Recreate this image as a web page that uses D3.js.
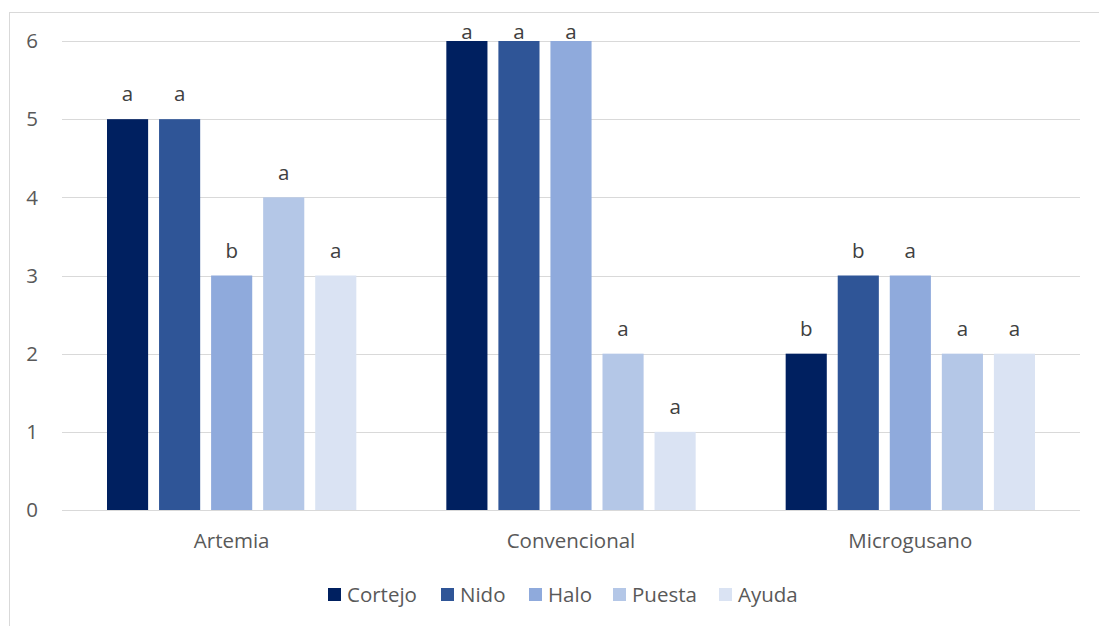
<!DOCTYPE html>
<html>
<head>
<meta charset="utf-8">
<script src="https://cdn.jsdelivr.net/npm/d3@7"></script>
<style>
  html, body { margin: 0; padding: 0; background: #fff; }
  svg { display: block; font-family: "Open Sans", sans-serif; }
</style>
</head>
<body>
<svg id="chart" width="1099" height="626"></svg>
<script>
// Diet groups and behaviours
const categories = ["Artemia", "Convencional", "Microgusano"];
const series = ["Cortejo", "Nido", "Halo", "Puesta", "Ayuda"];
const colors = ["#002060", "#2F5597", "#8FAADC", "#B4C7E7", "#DAE3F3"];

// Values per diet, one entry per behaviour
const artemia = [5, 5, 3, 4, 3];
const convencional = [6, 6, 6, 2, 1];
const microgusano = [2, 3, 3, 2, 2];

// Significance letters above each bar
const lettersArtemia = ["a", "a", "b", "a", "a"];
const lettersConvencional = ["a", "a", "a", "a", "a"];
const lettersMicrogusano = ["b", "b", "a", "a", "a"];

const yTicks = [0, 1, 2, 3, 4, 5, 6];

const values = [artemia, convencional, microgusano];
const letters = [lettersArtemia, lettersConvencional, lettersMicrogusano];

const fontSize = 20.5;
const svg = d3.select("#chart");

// Outer chart frame
svg.append("rect")
  .attr("x", 9.5).attr("y", 12.5)
  .attr("width", 1200).attr("height", 700)
  .attr("fill", "none").attr("stroke", "#d9d9d9").attr("stroke-width", 1);

const plot = { left: 62, right: 1080, top: 41, bottom: 510 };

const y = d3.scaleLinear().domain([0, 6]).range([plot.bottom, plot.top]);
const x0 = d3.scaleBand().domain(categories).range([plot.left, plot.right]).padding(0);
const inner = 45;
const x1 = d3.scaleBand().domain(series)
  .range([inner, x0.bandwidth() - inner])
  .paddingInner(0.21).paddingOuter(0);
const color = d3.scaleOrdinal().domain(series).range(colors);

// Gridlines
svg.append("g")
  .selectAll("line")
  .data(yTicks)
  .join("line")
  .attr("x1", plot.left).attr("x2", plot.right)
  .attr("y1", d => Math.round(y(d)) + 0.5)
  .attr("y2", d => Math.round(y(d)) + 0.5)
  .attr("stroke", "#d9d9d9").attr("stroke-width", 1);

// Y tick labels
svg.append("g")
  .selectAll("text")
  .data(yTicks)
  .join("text")
  .attr("x", 38)
  .attr("y", d => y(d))
  .attr("dy", "0.35em")
  .attr("text-anchor", "end")
  .attr("fill", "#595959")
  .attr("font-size", fontSize)
  .text(d => d);

// Bars and letters
const groups = svg.append("g")
  .selectAll("g")
  .data(categories.map((c, i) => ({ c, i })))
  .join("g")
  .attr("transform", d => `translate(${x0(d.c)},0)`);

groups.selectAll("rect")
  .data(d => series.map((s, j) => ({ s, v: values[d.i][j] })))
  .join("rect")
  .attr("x", d => x1(d.s))
  .attr("width", x1.bandwidth())
  .attr("y", d => y(d.v))
  .attr("height", d => y(0) - y(d.v))
  .attr("fill", d => color(d.s));

// Letters sit above each bar, kept inside the frame near the top
const labelTop = 32;
groups.selectAll("text")
  .data(d => series.map((s, j) => ({ s, v: values[d.i][j], l: letters[d.i][j] })))
  .join("text")
  .attr("x", d => x1(d.s) + x1.bandwidth() / 2)
  .attr("y", d => Math.max(labelTop, y(d.v) - 25))
  .attr("dy", "0.35em")
  .attr("text-anchor", "middle")
  .attr("fill", "#404040")
  .attr("font-size", fontSize)
  .text(d => d.l);

// Category labels
svg.append("g")
  .selectAll("text")
  .data(categories)
  .join("text")
  .attr("x", d => x0(d) + x0.bandwidth() / 2)
  .attr("y", 541)
  .attr("dy", "0.35em")
  .attr("text-anchor", "middle")
  .attr("fill", "#595959")
  .attr("font-size", fontSize)
  .text(d => d);

// Legend
const legendX = [328, 441, 529, 613, 719];
const legend = svg.append("g")
  .selectAll("g")
  .data(series)
  .join("g")
  .attr("transform", (d, i) => `translate(${legendX[i]},588)`);
legend.append("rect")
  .attr("width", 13).attr("height", 13)
  .attr("fill", d => color(d));
legend.append("text")
  .attr("x", 19).attr("y", 6.5)
  .attr("dy", "0.35em")
  .attr("fill", "#595959")
  .attr("font-size", fontSize)
  .text(d => d);
</script>
</body>
</html>
